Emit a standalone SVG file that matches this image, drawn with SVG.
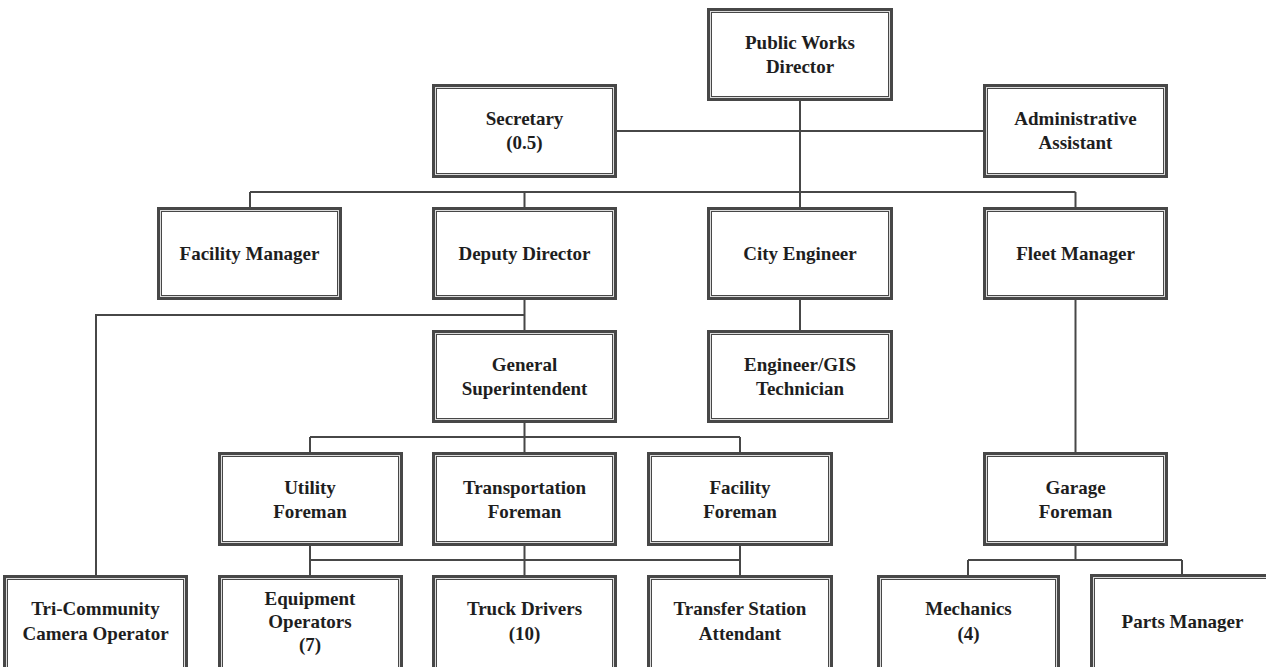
<svg xmlns="http://www.w3.org/2000/svg" width="1266" height="667" viewBox="0 0 1266 667">
<style>
.o{fill:#fff;stroke:#474747;stroke-width:5}
.i{fill:none;stroke:#dcdcdc;stroke-width:1}
.t{font-family:"Liberation Serif","Times New Roman",serif;font-weight:bold;font-size:19px;fill:#1e1e1e;text-anchor:middle}
.c{fill:none;stroke:#474747;stroke-width:2}
</style>
<rect width="1266" height="667" fill="#fff"/>
<g id="connectors" class="c">
<path d="M800 101V207"/>
<path d="M617 131H983"/>
<path d="M250 192H1075.5M250 192V207M524.5 192V207M1075.5 192V207"/>
<path d="M524.5 300V330M524.5 315H96V575"/>
<path d="M800 300V330"/>
<path d="M1075.5 300V453"/>
<path d="M524.5 423V453M310 437H740M310 437V453M740 437V453"/>
<path d="M310 546V575M524.5 546V575M740 546V575M310 560H740"/>
<path d="M1075.5 546V560M968 560H1182M968 560V575M1182 560V575"/>
</g>
<g id="pw-director"><rect class="o" x="709.5" y="10.5" width="181" height="88"/><rect class="i" x="710.5" y="11.5" width="179" height="86"/><text class="t" x="800" y="49">Public Works</text><text class="t" x="800" y="73">Director</text></g>
<g id="secretary"><rect class="o" x="434.5" y="86.5" width="180" height="89"/><rect class="i" x="435.5" y="87.5" width="178" height="87"/><text class="t" x="524.5" y="125">Secretary</text><text class="t" x="524.5" y="149">(0.5)</text></g>
<g id="admin-assistant"><rect class="o" x="985.5" y="86.5" width="180" height="89"/><rect class="i" x="986.5" y="87.5" width="178" height="87"/><text class="t" x="1075.5" y="125">Administrative</text><text class="t" x="1075.5" y="149">Assistant</text></g>
<g id="facility-manager"><rect class="o" x="159.5" y="209.5" width="180" height="88"/><rect class="i" x="160.5" y="210.5" width="178" height="86"/><text class="t" x="249.5" y="260">Facility Manager</text></g>
<g id="deputy-director"><rect class="o" x="434.5" y="209.5" width="180" height="88"/><rect class="i" x="435.5" y="210.5" width="178" height="86"/><text class="t" x="524.5" y="260">Deputy Director</text></g>
<g id="city-engineer"><rect class="o" x="709.5" y="209.5" width="181" height="88"/><rect class="i" x="710.5" y="210.5" width="179" height="86"/><text class="t" x="800" y="260">City Engineer</text></g>
<g id="fleet-manager"><rect class="o" x="985.5" y="209.5" width="180" height="88"/><rect class="i" x="986.5" y="210.5" width="178" height="86"/><text class="t" x="1075.5" y="260">Fleet Manager</text></g>
<g id="general-superintendent"><rect class="o" x="434.5" y="332.5" width="180" height="88"/><rect class="i" x="435.5" y="333.5" width="178" height="86"/><text class="t" x="524.5" y="371">General</text><text class="t" x="524.5" y="395">Superintendent</text></g>
<g id="engineer-gis"><rect class="o" x="709.5" y="332.5" width="181" height="88"/><rect class="i" x="710.5" y="333.5" width="179" height="86"/><text class="t" x="800" y="371">Engineer/GIS</text><text class="t" x="800" y="395">Technician</text></g>
<g id="utility-foreman"><rect class="o" x="220.5" y="454.5" width="180" height="89"/><rect class="i" x="221.5" y="455.5" width="178" height="87"/><text class="t" x="310" y="494">Utility</text><text class="t" x="310" y="518">Foreman</text></g>
<g id="transportation-foreman"><rect class="o" x="434.5" y="454.5" width="180" height="89"/><rect class="i" x="435.5" y="455.5" width="178" height="87"/><text class="t" x="524.5" y="494">Transportation</text><text class="t" x="524.5" y="518">Foreman</text></g>
<g id="facility-foreman"><rect class="o" x="649.5" y="454.5" width="181" height="89"/><rect class="i" x="650.5" y="455.5" width="179" height="87"/><text class="t" x="740" y="494">Facility</text><text class="t" x="740" y="518">Foreman</text></g>
<g id="garage-foreman"><rect class="o" x="985.5" y="454.5" width="180" height="89"/><rect class="i" x="986.5" y="455.5" width="178" height="87"/><text class="t" x="1075.5" y="494">Garage</text><text class="t" x="1075.5" y="518">Foreman</text></g>
<g id="tri-community"><rect class="o" x="5.5" y="577.5" width="180" height="96"/><rect class="i" x="6.5" y="578.5" width="178" height="94"/><text class="t" x="95.5" y="615">Tri-Community</text><text class="t" x="95.5" y="640">Camera Operator</text></g>
<g id="equipment-operators"><rect class="o" x="220.5" y="577.5" width="180" height="96"/><rect class="i" x="221.5" y="578.5" width="178" height="94"/><text class="t" x="310" y="605">Equipment</text><text class="t" x="310" y="628">Operators</text><text class="t" x="310" y="651">(7)</text></g>
<g id="truck-drivers"><rect class="o" x="434.5" y="577.5" width="180" height="96"/><rect class="i" x="435.5" y="578.5" width="178" height="94"/><text class="t" x="524.5" y="615">Truck Drivers</text><text class="t" x="524.5" y="640">(10)</text></g>
<g id="transfer-station"><rect class="o" x="649.5" y="577.5" width="181" height="96"/><rect class="i" x="650.5" y="578.5" width="179" height="94"/><text class="t" x="740" y="615">Transfer Station</text><text class="t" x="740" y="640">Attendant</text></g>
<g id="mechanics"><rect class="o" x="879.5" y="577.5" width="178" height="96"/><rect class="i" x="880.5" y="578.5" width="176" height="94"/><text class="t" x="968.5" y="615">Mechanics</text><text class="t" x="968.5" y="640">(4)</text></g>
<g id="parts-manager"><rect class="o" x="1092.5" y="576.5" width="180" height="96"/><rect class="i" x="1093.5" y="577.5" width="178" height="94"/><text class="t" x="1182.5" y="628">Parts Manager</text></g>
</svg>
